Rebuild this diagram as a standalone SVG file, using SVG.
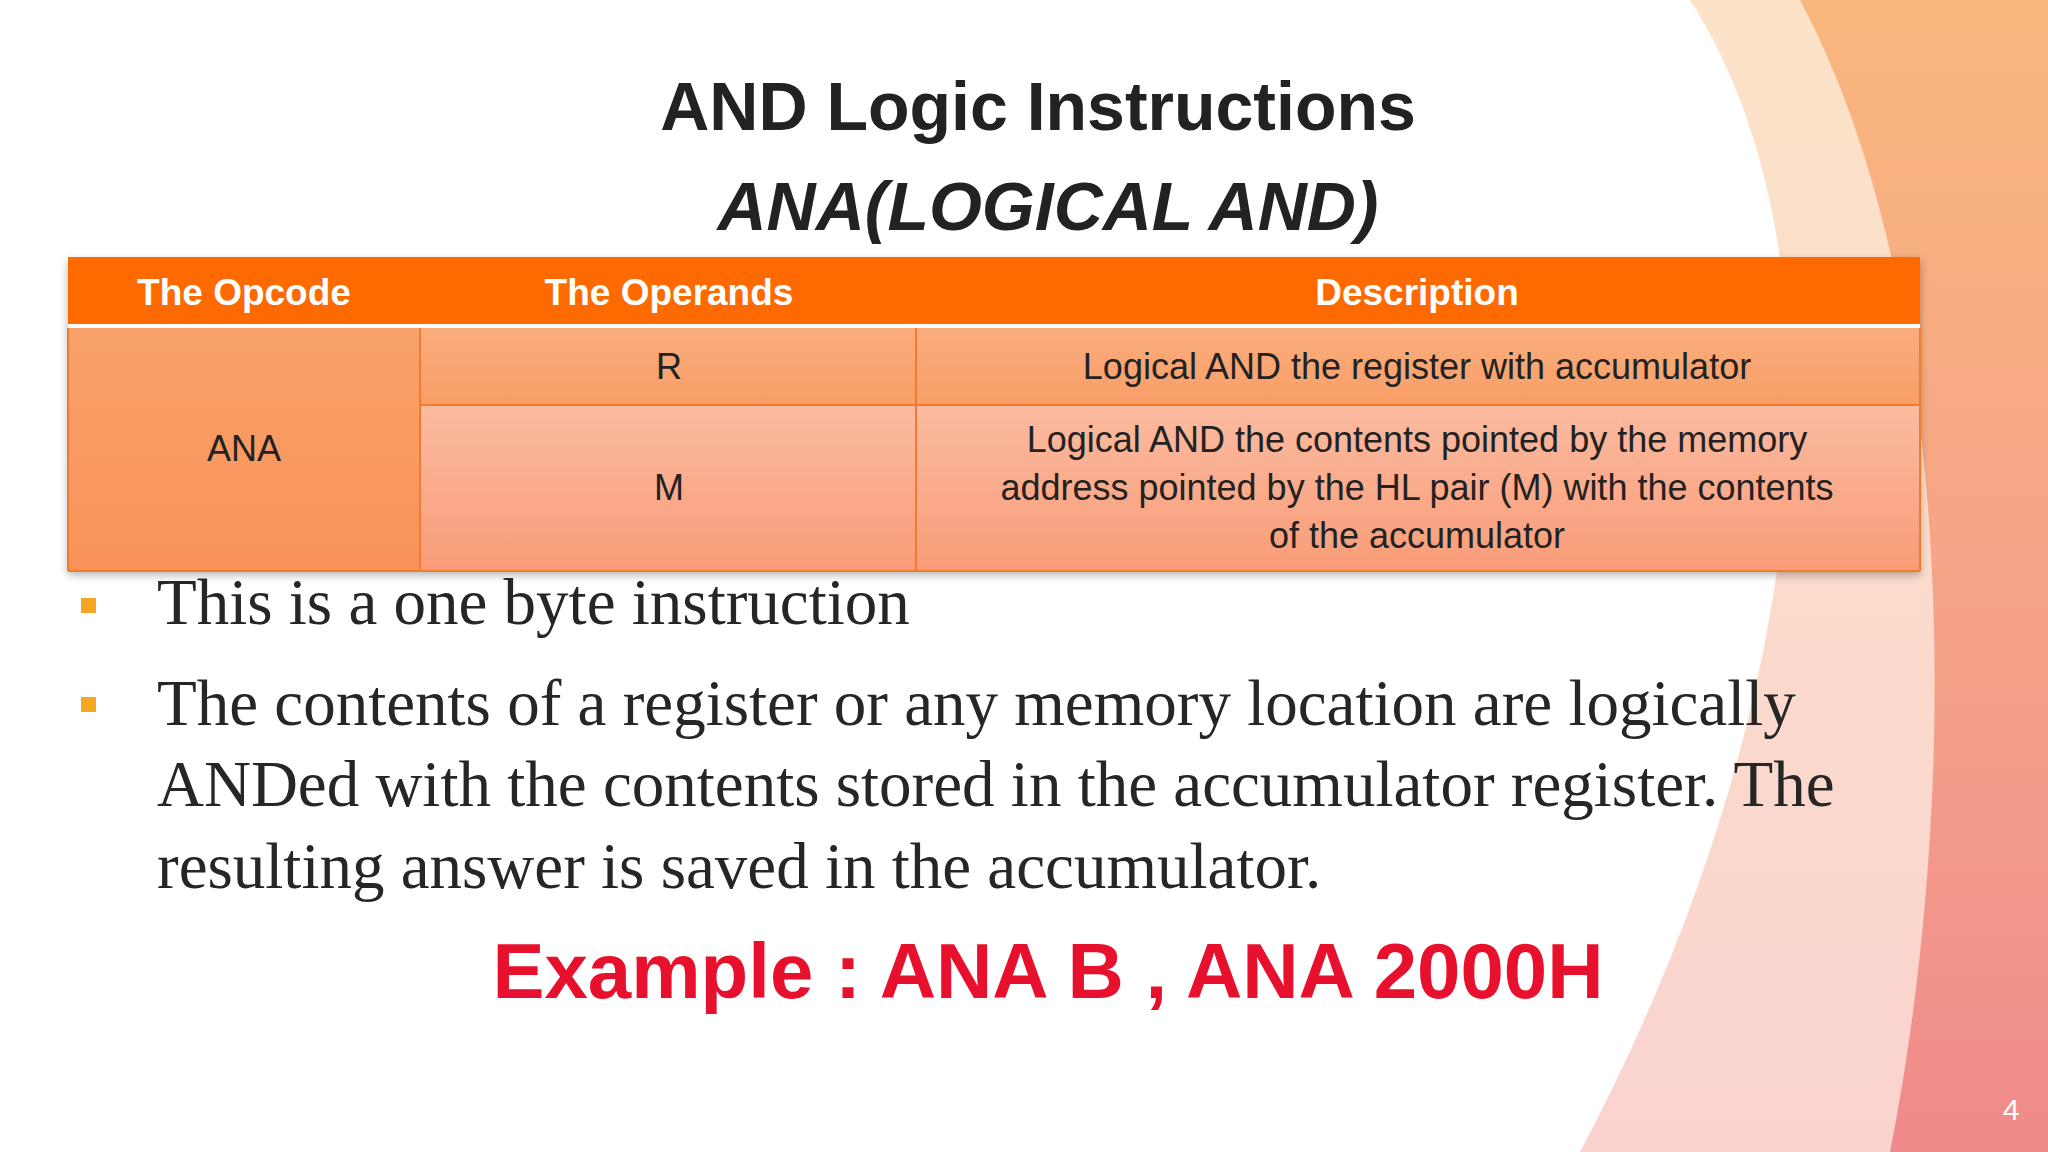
<svg xmlns="http://www.w3.org/2000/svg" width="2048" height="1152" viewBox="0 0 2048 1152">
<defs>
<linearGradient id="bgR" x1="0" y1="0" x2="0" y2="1"><stop offset="0" stop-color="#FCE3C8"/><stop offset="1" stop-color="#FAD3CF"/></linearGradient>
<linearGradient id="bgO" x1="0" y1="0" x2="0" y2="1"><stop offset="0" stop-color="#F9B77C"/><stop offset="0.6" stop-color="#F5A08A"/><stop offset="1" stop-color="#EF8A8A"/></linearGradient>
<linearGradient id="cellA" x1="0" y1="0" x2="0" y2="1"><stop offset="0" stop-color="#F9A26A"/><stop offset="1" stop-color="#F8925A"/></linearGradient>
<linearGradient id="cellB" x1="0" y1="0" x2="0" y2="1"><stop offset="0" stop-color="#FBBBA0"/><stop offset="1" stop-color="#F99C78"/></linearGradient>
<linearGradient id="cellR" x1="0" y1="0" x2="0" y2="1"><stop offset="0" stop-color="#FAAD7C"/><stop offset="1" stop-color="#F99E68"/></linearGradient>
<filter id="sh" x="-5%" y="-5%" width="110%" height="115%"><feDropShadow dx="0" dy="4" stdDeviation="4" flood-color="#000" flood-opacity="0.3"/></filter>
<style>
.hd{font-family:"Liberation Sans",Arial,sans-serif;font-weight:bold;font-size:37px;fill:#fff;text-anchor:middle}
.cl{font-family:"Liberation Sans",Arial,sans-serif;font-size:36px;fill:#222;text-anchor:middle}
.bl{font-family:"Liberation Serif","Times New Roman",serif;font-size:65px;fill:#262626}
.bx{fill:#F5A623}
.bd{stroke:#F47A2E;stroke-width:2;fill:none}
</style>
</defs>
<rect width="2048" height="1152" fill="#fff"/>
<g id="background">
<path d="M1690 0 C1850 250 1820 700 1580 1152 L2048 1152 L2048 0 Z" fill="url(#bgR)"/>
<path d="M1800 0 C1960 300 1960 800 1890 1152 L2048 1152 L2048 0 Z" fill="url(#bgO)"/>
</g>
<g id="title">
<text x="1038" y="130" font-family="Liberation Sans,Arial,sans-serif" font-weight="bold" font-size="68" fill="#222" text-anchor="middle">AND Logic Instructions</text>
<text x="1048" y="230" font-family="Liberation Sans,Arial,sans-serif" font-weight="bold" font-style="italic" font-size="68" fill="#222" text-anchor="middle">ANA(LOGICAL AND)</text>
</g>
<g id="table">
<rect x="68" y="257" width="1852" height="314" fill="#F8925A" filter="url(#sh)"/>
<rect x="68" y="257" width="1852" height="67" fill="#FF6A00"/>
<rect x="68" y="324" width="1852" height="4" fill="#fff"/>
<rect x="68" y="328" width="352" height="243" fill="url(#cellA)"/>
<rect x="420" y="328" width="1500" height="77" fill="url(#cellR)"/>
<rect x="420" y="405" width="1500" height="166" fill="url(#cellB)"/>
<path class="bd" d="M420 328 V571 M916 328 V571 M420 405 H1920 M68 571 H1920 M1920 328 V571 M68 328 V571"/>
<text class="hd" x="244" y="305">The Opcode</text>
<text class="hd" x="669" y="305">The Operands</text>
<text class="hd" x="1417" y="305">Description</text>
<text class="cl" x="669" y="379">R</text>
<text class="cl" x="1417" y="379">Logical AND the register with accumulator</text>
<text class="cl" x="244" y="461">ANA</text>
<text class="cl" x="669" y="500">M</text>
<text class="cl" x="1417" y="452">Logical AND the contents pointed by the memory</text>
<text class="cl" x="1417" y="500">address pointed by the HL pair (M) with the contents</text>
<text class="cl" x="1417" y="548">of the accumulator</text>
</g>
<g id="bullets">
<rect class="bx" x="81" y="598" width="15" height="15"/>
<text class="bl" x="157" y="624">This is a one byte instruction</text>
<rect class="bx" x="81" y="697" width="15" height="15"/>
<text class="bl" x="157" y="725">The contents of a register or any memory location are logically</text>
<text class="bl" x="157" y="806">ANDed with the contents stored in the accumulator register. The</text>
<text class="bl" x="157" y="888">resulting answer is saved in the accumulator.</text>
</g>
<g id="example">
<text x="1048" y="998" font-family="Liberation Sans,Arial,sans-serif" font-weight="bold" font-size="78" fill="#E8112D" text-anchor="middle">Example : ANA B , ANA 2000H</text>
</g>
<text x="2011" y="1120" font-family="Liberation Sans,Arial,sans-serif" font-size="30" fill="#fff" text-anchor="middle">4</text>
</svg>
